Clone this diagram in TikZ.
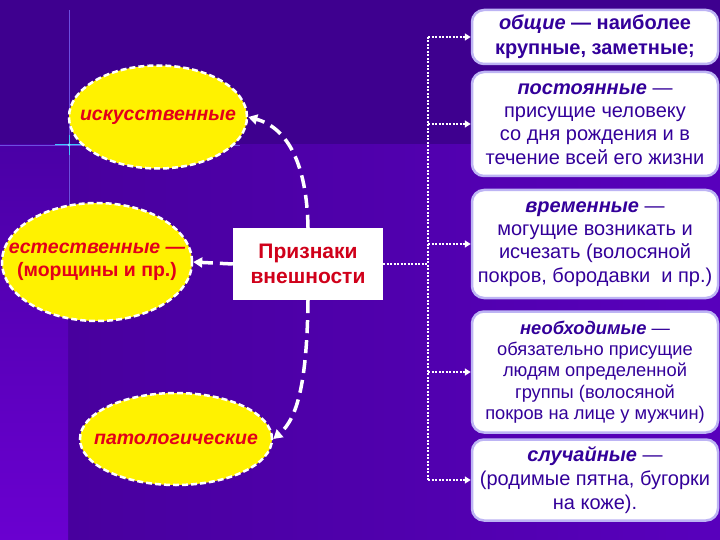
\documentclass[tikz,border=0pt]{standalone}
\usepackage{fontspec}
\setmainfont{Liberation Sans}
\usetikzlibrary{arrows.meta,shapes.geometric}
\definecolor{bgtop}{HTML}{3E008F}
\definecolor{bgmidA}{HTML}{48009E}
\definecolor{bgmidB}{HTML}{5800BC}
\definecolor{bgleftA}{HTML}{4A00A6}
\definecolor{bgleftB}{HTML}{6A00D0}
\definecolor{thinline}{HTML}{6C4FE0}
\definecolor{ellred}{HTML}{E2001A}
\definecolor{boxtext}{HTML}{33009A}
\definecolor{boxborder}{HTML}{BDB4F4}
\definecolor{prred}{HTML}{D0001A}
\definecolor{glint}{HTML}{40C8FF}
\begin{document}
\begin{tikzpicture}[x=1pt,y=-1pt,
  ellnode/.style={ellipse, fill=yellow, draw=white, line width=2.5pt,
    dash pattern=on 6pt off 3pt, inner sep=0pt},
  elltext/.style={inner sep=0pt, text=ellred, align=center,
    font=\bfseries\itshape\fontsize{19.5}{23}\selectfont},
  rbox/.style={rectangle, rounded corners=12pt, fill=white, draw=boxborder,
    line width=2.5pt, minimum width=246pt, text=boxtext, align=center,
    inner sep=0pt, font=\fontsize{20}{23.3}\selectfont},
  dashconn/.style={draw=white, line width=3.5pt, dash pattern=on 13pt off 7pt,
    -{Triangle[length=9pt,width=10pt]}},
  dotline/.style={draw=white, line width=2.5pt, dash pattern=on 2pt off 1.5pt},
  dotarr/.style={dotline, -{Triangle[length=6pt,width=7pt]}}
]
\useasboundingbox (0,0) rectangle (720,540);
% background
\fill[bgtop] (0,0) rectangle (720,145);
\shade[left color=bgmidA, right color=bgmidB] (68,145) rectangle (720,540);
\shade[top color=bgleftA, bottom color=bgleftB] (0,145) rectangle (68,540);
\draw[thinline, line width=0.8pt] (69,10) -- (69,250);
\draw[thinline, line width=0.8pt] (0,145) -- (240,145);
\draw[glint, line width=1pt] (69,135) -- (69,155);
\draw[glint, line width=1pt] (55,145) -- (83,145);
\fill[glint!60!white] (69,145) circle (1.5pt);

% central box
\node[rectangle, fill=white, minimum width=150pt, minimum height=72pt,
  inner sep=0pt, text=prred, align=center,
  font=\bfseries\fontsize{21}{25}\selectfont] (pr) at (308,264) {Признаки\\внешности};

% ellipses
\node[ellnode, minimum width=178pt, minimum height=103pt] (isk) at (158,117) {};
\node[elltext] (iskt) at (isk) {искусственные};
\node[ellnode, minimum width=190pt, minimum height=118pt] (est) at (97,262) {};
\node[elltext] (estt) at (est) {естественные —\\{\upshape(морщины и пр.)}};
\node[ellnode, minimum width=192pt, minimum height=92pt] (pat) at (176,439) {};
\node[elltext] (patt) at (pat) {патологические};

% right boxes
\node[rbox, minimum height=54pt, font=\bfseries\fontsize{20}{25}\selectfont] (b1) at (595,37)
  {{\itshape общие} — наиболее\\крупные, заметные;};
\node[rbox, minimum height=104pt] (b2) at (595,124)
  {{\bfseries\itshape постоянные} —\\присущие человеку\\со дня рождения и в\\течение всей его жизни};
\node[rbox, minimum height=108pt] (b3) at (595,244)
  {{\bfseries\itshape временные} —\\могущие возникать и\\исчезать (волосяной\\покров, бородавки\ \ и пр.)};
\node[rbox, minimum height=121pt, font=\fontsize{18.3}{21.3}\selectfont] (b4) at (595,372)
  {{\bfseries\itshape необходимые} —\\обязательно присущие\\людям определенной\\группы (волосяной\\покров на лице у мужчин)};
\node[rbox, minimum height=81pt, font=\fontsize{20}{24}\selectfont] (b5) at (595,480)
  {{\bfseries\itshape случайные} —\\(родимые пятна, бугорки\\на коже).};

% dashed connectors
\draw[dashconn] (pr.north) .. controls (307,165) and (288,128) .. (isk.east);
\draw[dashconn] (pr.south) .. controls (307,380) and (298,418) .. (pat.east);
\draw[dashconn] (pr.west) -- (est.east);

% dotted connectors
\coordinate (vt) at (428,0);
\draw[dotline] (pr.east) -- (vt |- pr.east);
\draw[dotline] (vt |- b1.west) -- (vt |- b5.west);
\draw[dotarr] (vt |- b1.west) -- (b1.west);
\draw[dotarr] (vt |- b2.west) -- (b2.west);
\draw[dotarr] (vt |- b3.west) -- (b3.west);
\draw[dotarr] (vt |- b4.west) -- (b4.west);
\draw[dotarr] (vt |- b5.west) -- (b5.west);
\end{tikzpicture}
\end{document}
